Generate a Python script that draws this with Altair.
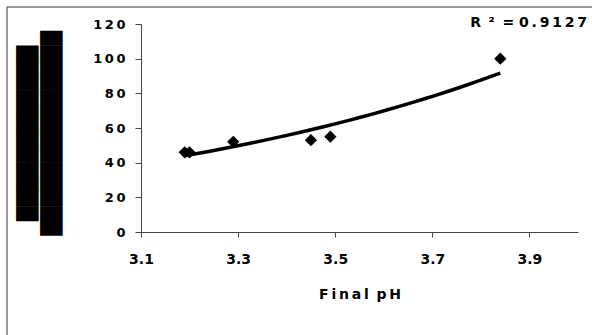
import altair as alt
import pandas as pd

# data
final_ph = [3.19, 3.20, 3.29, 3.45, 3.49, 3.84]
values = [46, 46, 52, 53, 55, 100]
x_ticks = [3.1, 3.3, 3.5, 3.7, 3.9]
y_ticks = [0, 20, 40, 60, 80, 100, 120]
r2_label = ["R\u2009 \u00b2\u2009 = 0\u2009.\u20099\u20091\u20092\u20097"]

df = pd.DataFrame({"ph": final_ph, "v": values})

FONT = "DejaVu Sans"
AX = "#444444"
W, H = 437, 208

x_enc = alt.X(
    "ph:Q",
    scale=alt.Scale(domain=[3.1, 4.0], nice=False, zero=False),
    axis=alt.Axis(
        values=x_ticks, format=".1f", grid=False,
        domainColor=AX, tickColor=AX, tickSize=5,
        labelFont=FONT, labelFontSize=14, labelFontWeight="bold", labelColor="black",
        labelPadding=15, labelFlush=False, labelOverlap=False,
        title="F\u2009i\u2009n\u2009a\u2009l\u2009 p\u2009H", titleFont=FONT, titleFontSize=14,
        titleFontWeight="bold", titleColor="black",
        titleBaseline="alphabetic", titleY=66,
    ),
)
y_enc = alt.Y(
    "v:Q",
    scale=alt.Scale(domain=[0, 120], nice=False),
    axis=alt.Axis(
        values=y_ticks, grid=False,
        domainColor=AX, tickColor=AX, tickSize=6,
        labelFont=FONT, labelFontSize=13, labelFontWeight="bold", labelColor="black",
        labelPadding=10, labelFlush=False, labelOverlap=False, labelBound=False,
        labelExpr="join(split(datum.label, ''), '\u2009')",
        title=[" " + "\u2588" * 12, "\u2588" * 14],
        titleFont=FONT, titleFontSize=19, titleLineHeight=24, titleColor="black",
        titleAngle=-90, titleAlign="center", titleBaseline="middle",
        titleX=-114, titleY=109,
    ),
)

base = alt.Chart(df)

points = base.mark_point(shape="diamond", filled=True, size=150, color="black", opacity=1).encode(
    x=x_enc, y=y_enc
)

# exponential trend line fitted in log space (as a spreadsheet does)
trend = (
    base.transform_calculate(lv="log(datum.v)")
    .transform_regression("ph", "lv", method="poly", order=1)
    .transform_calculate(v="exp(datum.lv)")
    .mark_line(color="black", strokeWidth=3.5)
    .encode(x=x_enc, y=y_enc)
)

r2 = alt.Chart(pd.DataFrame({"t": r2_label})).mark_text(
    font=FONT, fontSize=14, fontWeight="bold", align="right", baseline="middle", color="black"
).encode(x=alt.value(446), y=alt.value(-1), text="t:N")

frame = alt.Chart(pd.DataFrame({"t": r2_label})).mark_rect(
    fill=None, stroke="#333333", strokeWidth=1
).encode(x=alt.value(-134), y=alt.value(-17), x2=alt.value(470), y2=alt.value(330))

chart = alt.layer(frame, trend, points, r2).properties(
    width=W, height=H,
    autosize=alt.AutoSizeParams(type="none"),
    padding={"left": 141, "top": 24, "right": 14, "bottom": 103},
    background="white",
).configure_view(stroke=None)

chart.save("out.html", embed_options={"renderer": "svg", "actions": False})
